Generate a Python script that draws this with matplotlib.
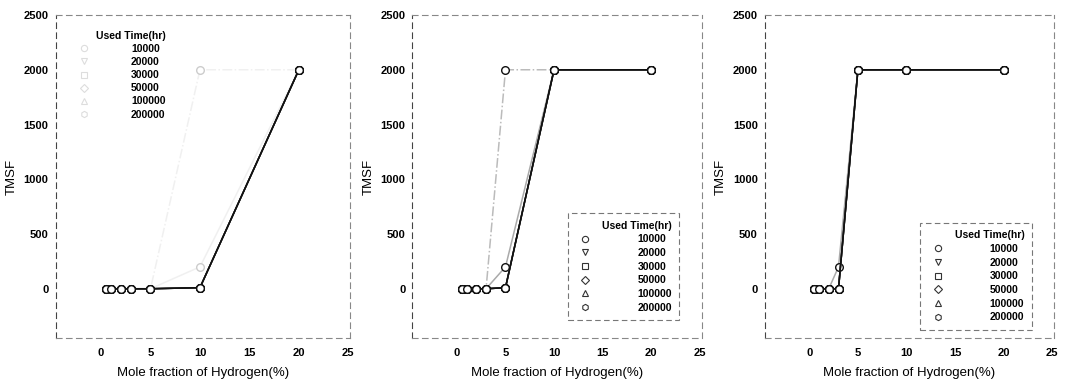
import matplotlib
matplotlib.use("Agg")
import matplotlib.pyplot as plt
from matplotlib.lines import Line2D

plt.rcParams['font.family'] = ['Liberation Sans', 'DejaVu Sans']

# mole fraction of hydrogen (%)
x = [0.5, 1, 2, 3, 5, 10, 20]

# used time (hr) series labels
times = ['10000', '20000', '30000', '50000', '100000', '200000']

# TMSF values, one list per used time, for each of the three panels
a_10000 = [0, 0, 0, 0, 0, 10, 2000]
a_20000 = [0, 0, 0, 0, 0, 10, 2000]
a_30000 = [0, 0, 0, 0, 0, 200, 2000]
a_50000 = [0, 0, 0, 0, 0, 10, 2000]
a_100000 = [0, 0, 0, 0, 0, 10, 2000]
a_200000 = [0, 0, 0, 0, 0, 2000, 2000]

b_10000 = [0, 0, 0, 0, 10, 2000, 2000]
b_20000 = [0, 0, 0, 0, 10, 2000, 2000]
b_30000 = [0, 0, 0, 0, 200, 2000, 2000]
b_50000 = [0, 0, 0, 0, 10, 2000, 2000]
b_100000 = [0, 0, 0, 0, 10, 2000, 2000]
b_200000 = [0, 0, 0, 0, 2000, 2000, 2000]

c_10000 = [0, 0, 0, 0, 2000, 2000, 2000]
c_20000 = [0, 0, 0, 0, 2000, 2000, 2000]
c_30000 = [0, 0, 0, 200, 2000, 2000, 2000]
c_50000 = [0, 0, 0, 0, 2000, 2000, 2000]
c_100000 = [0, 0, 0, 0, 2000, 2000, 2000]
c_200000 = [0, 0, 0, 0, 2000, 2000, 2000]

panels = [
    [a_10000, a_20000, a_30000, a_50000, a_100000, a_200000],
    [b_10000, b_20000, b_30000, b_50000, b_100000, b_200000],
    [c_10000, c_20000, c_30000, c_50000, c_100000, c_200000],
]

markers = ['o', 'v', 's', 'D', '^', 'h']
colors = ['#111111', '#444444', '#aaaaaa', '#222222', '#777777', '#bbbbbb']
styles = ['-', '-', '-', '-', '-', '-.']
order = [5, 2, 4, 1, 3, 0]  # draw black on top

fig = plt.figure(figsize=(10.68, 3.85), dpi=100)
boxes = [[0.052, 0.122, 0.276, 0.839],
         [0.386, 0.122, 0.271, 0.839],
         [0.716, 0.122, 0.271, 0.839]]

for p, series in enumerate(panels):
    ax = fig.add_axes(boxes[p])
    for i in order:
        col = colors[i]
        mec = '#111111'
        if p == 0 and i in (2, 5):
            # these are barely visible in the left panel
            col = '#f0f0f0'
            mec = '#cccccc'
        ax.plot(x, series[i], linestyle=styles[i], color=col, lw=1.1,
                marker='o', ms=5.5, mfc='white', mec=mec, mew=1.0,
                zorder=3 if i == 0 else 2)
    ax.set_xlim(-4.6, 25.2)
    ax.set_ylim(-450, 2500)
    ax.set_xticks([0, 5, 10, 15, 20, 25])
    ax.set_yticks([0, 500, 1000, 1500, 2000, 2500])
    ax.tick_params(length=0, labelsize=8)
    ax.tick_params(axis='x', pad=7)
    ax.tick_params(axis='y', pad=5)
    for t in ax.get_xticklabels() + ax.get_yticklabels():
        t.set_fontweight('bold')
    for s in ax.spines.values():
        s.set_linestyle((0, (5, 4)))
        s.set_color('#888888')
        s.set_linewidth(0.8)
    ax.spines['left'].set_color('#444444')
    ax.set_xlabel('Mole fraction of Hydrogen(%)', fontsize=9.5, labelpad=7)
    ax.set_ylabel('TMSF', fontsize=9.5, labelpad=4)

    if p == 0:
        mcol = '#dddddd'
    else:
        mcol = '#333333'
    handles = [Line2D([], [], linestyle='none', marker=markers[i], ms=4.5,
                      mfc='white', mec=mcol, mew=0.8) for i in range(6)]
    if p == 0:
        leg = ax.legend(handles, times, title='Used Time(hr)', loc='upper left',
                        bbox_to_anchor=(0.03, 0.98), frameon=False,
                        prop={'size': 7.5, 'weight': 'bold'}, handletextpad=3.5,
                        labelspacing=0.3, alignment='right')
    else:
        leg = ax.legend(handles, times, title='Used Time(hr)', loc='lower right',
                        bbox_to_anchor=(0.94, 0.04 if p == 1 else 0.01),
                        frameon=True, fancybox=False, edgecolor='#555555',
                        prop={'size': 7.5, 'weight': 'bold'}, handletextpad=4.0,
                        labelspacing=0.35, alignment='right', borderpad=0.7)
        leg.get_frame().set_linestyle((0, (5, 3)))
        leg.get_frame().set_linewidth(0.8)
    leg.get_title().set_fontsize(7.5)
    leg.get_title().set_fontweight('bold')

fig.savefig('out.png', dpi=100)
